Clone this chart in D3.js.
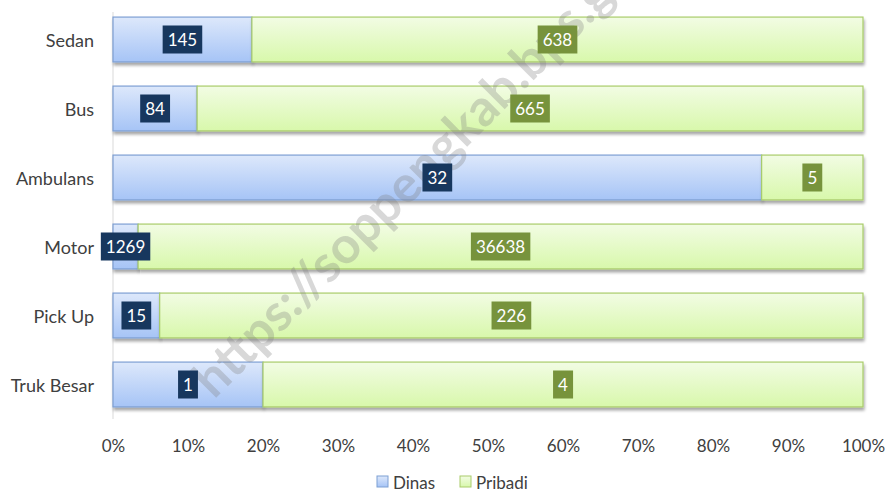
<!DOCTYPE html>
<html>
<head>
<meta charset="utf-8">
<script src="https://cdn.jsdelivr.net/npm/d3@7"></script>
<style>
  body { margin: 0; background: #fff; }
  text { font-family: Lato, "Open Sans", sans-serif; }
</style>
</head>
<body>
<div id="chart"></div>
<script>
var categories = ['Sedan', 'Bus', 'Ambulans', 'Motor', 'Pick Up', 'Truk Besar'];
var dinas = [145, 84, 32, 1269, 15, 1];
var pribadi = [638, 665, 5, 36638, 226, 4];
var seriesNames = ['Dinas', 'Pribadi'];
var tickValues = [0, 0.1, 0.2, 0.3, 0.4, 0.5, 0.6, 0.7, 0.8, 0.9, 1];

var W = 894, H = 492;
var svg = d3.select('#chart').append('svg')
	.attr('width', W)
	.attr('height', H);

var defs = svg.append('defs');
var g1 = defs.append('linearGradient').attr('id', 'gDinas')
	.attr('x1', 0).attr('y1', 0).attr('x2', 0).attr('y2', 1);
g1.append('stop').attr('offset', '0%').attr('stop-color', '#dde8fb');
g1.append('stop').attr('offset', '100%').attr('stop-color', '#a6c4f6');
var g2 = defs.append('linearGradient').attr('id', 'gPribadi')
	.attr('x1', 0).attr('y1', 0).attr('x2', 0).attr('y2', 1);
g2.append('stop').attr('offset', '0%').attr('stop-color', '#f2fce4');
g2.append('stop').attr('offset', '100%').attr('stop-color', '#d8f8ab');

var sh = defs.append('filter').attr('id', 'shadow')
	.attr('x', '-5%').attr('y', '-20%').attr('width', '110%').attr('height', '150%');
sh.append('feGaussianBlur').attr('in', 'SourceAlpha').attr('stdDeviation', 1.5);
sh.append('feOffset').attr('dx', 1).attr('dy', 3).attr('result', 'ob');
sh.append('feComponentTransfer').append('feFuncA').attr('type', 'linear').attr('slope', 0.35);
var mrg = sh.append('feMerge');
mrg.append('feMergeNode');
mrg.append('feMergeNode').attr('in', 'SourceGraphic');

var x = d3.scaleLinear().domain([0, 1]).range([113, 863]);
var y = d3.scaleBand().domain(categories).range([5, 419]).paddingInner(0.35).paddingOuter(0.175);

var rows = categories.map(function(c, i) {
	var tot = dinas[i] + pribadi[i];
	return { cat: c, d: dinas[i], p: pribadi[i], fd: dinas[i] / tot };
});

// axis line
svg.append('line')
	.attr('x1', x(0)).attr('x2', x(0))
	.attr('y1', 12).attr('y2', 419)
	.attr('stroke', '#d9d9d9');

var bars = svg.append('g');
rows.forEach(function(r) {
	bars.append('rect')
		.attr('x', x(0)).attr('y', y(r.cat))
		.attr('width', x(r.fd) - x(0)).attr('height', y.bandwidth())
		.attr('fill', 'url(#gDinas)')
		.attr('stroke', '#7d9fd3').attr('stroke-width', 1.2)
		.attr('filter', 'url(#shadow)');
	bars.append('rect')
		.attr('x', x(r.fd)).attr('y', y(r.cat))
		.attr('width', x(1) - x(r.fd)).attr('height', y.bandwidth())
		.attr('fill', 'url(#gPribadi)')
		.attr('stroke', '#a9cc6a').attr('stroke-width', 1.2)
		.attr('filter', 'url(#shadow)');
});

// watermark (above bars, below labels)
svg.append('text')
	.attr('transform', 'translate(214,400) rotate(-45)')
	.attr('font-size', 51)
	.attr('font-weight', 'bold')
	.attr('font-family', '"Open Sans", sans-serif')
	.attr('fill', '#808080')
	.attr('opacity', 0.3)
	.text('https://soppengkab.bps.go.id');

function label(cx, cy, txt, bg) {
	var t = svg.append('text')
		.attr('x', cx).attr('y', cy)
		.attr('text-anchor', 'middle')
		.attr('dominant-baseline', 'central')
		.attr('font-size', 17)
		.attr('fill', '#fff')
		.text(txt);
	var bb = t.node().getBBox();
	svg.insert('rect', function() { return t.node(); })
		.attr('x', bb.x - 5).attr('y', cy - 14)
		.attr('width', bb.width + 10).attr('height', 28)
		.attr('fill', bg);
}

rows.forEach(function(r) {
	var cy = y(r.cat) + y.bandwidth() / 2;
	label((x(0) + x(r.fd)) / 2, cy, r.d, '#17375e');
	label((x(r.fd) + x(1)) / 2, cy, r.p, '#77933c');
});

// category labels
svg.append('g').selectAll('text').data(categories).enter().append('text')
	.attr('x', 94)
	.attr('y', function(d) { return y(d) + y.bandwidth() / 2; })
	.attr('text-anchor', 'end')
	.attr('dominant-baseline', 'central')
	.attr('font-size', 18)
	.attr('fill', '#404040')
	.text(function(d) { return d; });

// x ticks
var xAxis = svg.append('g')
	.attr('transform', 'translate(0,447)')
	.call(d3.axisBottom(x).tickValues(tickValues).tickFormat(d3.format('.0%')).tickSize(0));
xAxis.select('.domain').remove();
xAxis.selectAll('text')
	.attr('font-size', 17)
	.attr('fill', '#404040')
	.attr('font-family', 'Lato, sans-serif')
	.attr('dy', '0.32em')
	.attr('y', 0);

// legend
var leg = svg.append('g');
var legX = [377, 460];
var legFill = ['url(#gDinas)', 'url(#gPribadi)'];
var legStroke = ['#7d9fd3', '#a9cc6a'];
seriesNames.forEach(function(s, i) {
	leg.append('rect')
		.attr('x', legX[i]).attr('y', 476)
		.attr('width', 11).attr('height', 11)
		.attr('fill', legFill[i]).attr('stroke', legStroke[i]);
	leg.append('text')
		.attr('x', legX[i] + 16).attr('y', 482)
		.attr('dominant-baseline', 'central')
		.attr('font-size', 17).attr('fill', '#404040')
		.text(s);
});
</script>
</body>
</html>
